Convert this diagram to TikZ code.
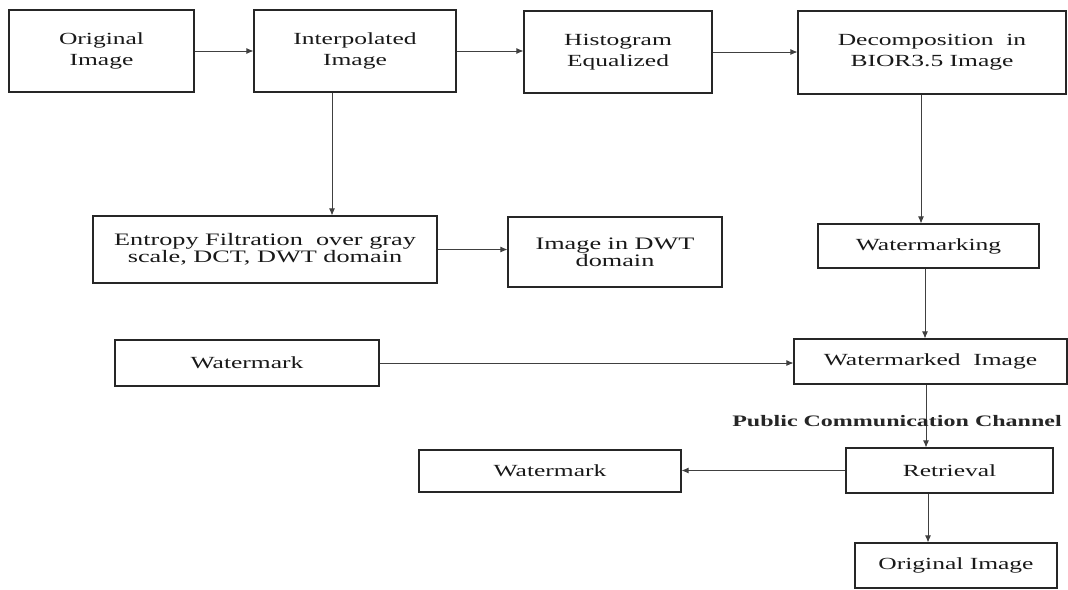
\documentclass[tikz,border=0pt]{standalone}
\usepackage{fontspec}
\setmainfont[FakeStretch=1.5]{Liberation Serif}
\usetikzlibrary{arrows.meta}
\begin{document}
\begin{tikzpicture}[x=1pt,y=-1pt,
  box/.style={draw=black!85, line width=1.2pt, align=center, inner sep=0pt,
    text=black!90, font=\fontsize{17}{21}\selectfont},
  tight/.style={font=\fontsize{17.5}{15}\selectfont},
  arr/.style={draw=black!75, line width=0.8pt, -{Latex[length=7pt,width=6pt]}}]
\useasboundingbox[fill=white] (0,0) rectangle (1068,589);
% top row
\node[box, minimum width=185pt, minimum height=82pt] (orig1) at (101.5,51) {Original\\Image};
\node[box, minimum width=202pt, minimum height=82pt] (interp) at (355,51) {Interpolated\\Image};
\node[box, minimum width=188pt, minimum height=82pt] (hist) at (618,52) {Histogram\\Equalized};
\node[box, minimum width=268pt, minimum height=83pt] (decomp) at (932,52.5) {Decomposition~~in\\BIOR3.5 Image};
% second row
\node[box, tight, minimum width=344pt, minimum height=67pt] (entropy) at (265,249.5) {Entropy Filtration~~over gray\\scale, DCT, DWT domain};
\node[box, tight, minimum width=214pt, minimum height=70pt] (dwt) at (615,252) {Image in DWT\\domain};
\node[box, minimum width=221pt, minimum height=44pt] (wmking) at (928.5,246) {Watermarking};
% third row
\node[box, minimum width=264pt, minimum height=46pt] (wm1) at (247,363) {Watermark};
\node[box, minimum width=273pt, minimum height=45pt] (wmked) at (930.5,361.5) {Watermarked~~Image};
% bottom
\node[box, minimum width=207pt, minimum height=45pt] (retr) at (949.5,470.5) {Retrieval};
\node[box, minimum width=262pt, minimum height=42pt] (wm2) at (550,471) {Watermark};
\node[box, minimum width=202pt, minimum height=45pt] (orig2) at (956,565.5) {Original Image};
% connectors
\draw[arr] (orig1.east) -- (orig1.east -| interp.west);
\draw[arr] (interp.east) -- (interp.east -| hist.west);
\draw[arr] (hist.east) -- (hist.east -| decomp.west);
\draw[arr] ([xshift=-23pt]interp.south) -- ([xshift=-23pt]interp.south |- entropy.north);
\draw[arr] (entropy.east) -- (entropy.east -| dwt.west);
\draw[arr] ([xshift=-11pt]decomp.south) -- ([xshift=-11pt]decomp.south |- wmking.north);
\draw[arr] ([xshift=-3.5pt]wmking.south) -- ([xshift=-3.5pt]wmking.south |- wmked.north);
\draw[arr] (wm1.east) -- (wm1.east -| wmked.west);
\draw[arr] ([xshift=-4.5pt]wmked.south) -- ([xshift=-4.5pt]wmked.south |- retr.north);
\draw[arr] (retr.west) -- (retr.west -| wm2.east);
\draw[arr] ([xshift=-21.5pt]retr.south) -- ([xshift=-21.5pt]retr.south |- orig2.north);
\node[font=\bfseries\fontsize{16}{18}\selectfont, text=black!85, inner sep=0pt] (pcc) at (897,421) {Public Communication Channel};
\end{tikzpicture}
\end{document}
